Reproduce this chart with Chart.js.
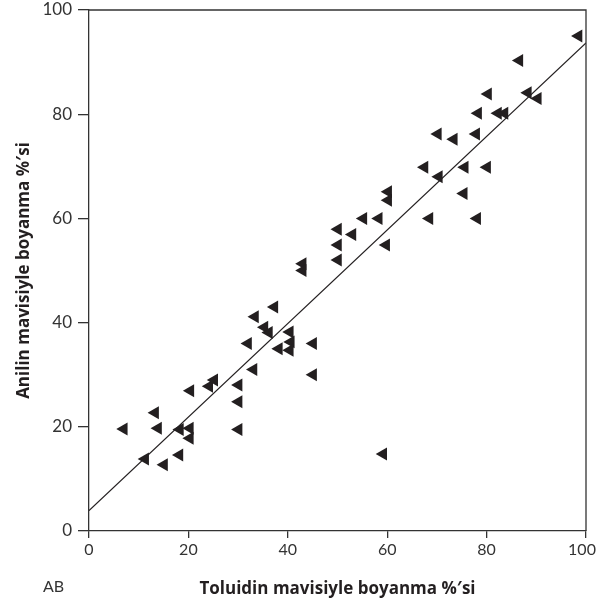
<!DOCTYPE html>
<html>
<head>
<meta charset="utf-8">
<script src="https://cdn.jsdelivr.net/npm/chart.js@4/dist/chart.umd.min.js"></script>
<style>
  body { margin: 0; background: #fff; }
  #wrap { width: 598px; height: 606px; position: relative; }
</style>
</head>
<body>
<div id="wrap"><canvas id="chartBoyanma"></canvas></div>
<script>
// Toluidin mavisi (x) vs Anilin mavisi (y), % staining
const toluidin = [7, 11.3, 13.3, 13.9, 15.1, 18.3, 18.2, 20.3, 20.3, 20.4, 24.2, 25.2, 30.1, 30.1, 30.1,
    32, 33.1, 33.4, 35.3, 36.2, 37.3, 38.2, 40.4, 40.6, 40.4, 45.1, 45.1, 43, 43, 50.1,
    50.1, 50.1, 53, 55.2, 58.3, 60.2, 60.2, 59.8, 59.2, 67.5, 68.5, 70.2, 70.4, 73.4, 75.6,
    75.4, 77.9, 78.3, 78.1, 80.3, 80.1, 82.3, 83.6, 86.6, 88.3, 90.3, 98.5];
const anilin = [19.6, 13.8, 22.7, 19.7, 12.7, 19.5, 14.6, 19.7, 17.8, 26.9, 27.8, 29, 28, 24.8, 19.5,
    36, 31, 41.1, 39.1, 38.1, 43, 35, 38.2, 36.3, 34.7, 36, 30, 51.3, 50, 57.9,
    54.9, 52, 56.9, 60, 60, 65.1, 63.5, 54.9, 14.8, 69.8, 60, 76.2, 68, 75.2, 69.8,
    64.8, 76.2, 80.2, 60, 83.9, 69.8, 80.2, 80.2, 90.3, 84.1, 83, 95];
// regression line end points
const fitX = [0, 100];
const fitY = [3.9, 93.7];
const axisTicks = [0, 20, 40, 60, 80, 100];

const ink = '#231f20';
const axisColor = '#333';

let points = [];
for (let i = 0; i < toluidin.length; i++) {
    points.push({ x: toluidin[i], y: anilin[i] });
}
let fitLine = fitX.map((x, i) => ({ x: x, y: fitY[i] }));

const frameAndLabel = {
    id: 'frameAndLabel',
    afterDatasetsDraw(chart) {
        const { ctx, chartArea } = chart;
        ctx.save();
        ctx.strokeStyle = axisColor;
        ctx.lineWidth = 1.3;
        ctx.beginPath();
        ctx.moveTo(chartArea.left, chartArea.top);
        ctx.lineTo(chartArea.right, chartArea.top);
        ctx.lineTo(chartArea.right, chartArea.bottom);
        ctx.stroke();
        ctx.fillStyle = axisColor;
        ctx.font = '16px Lato';
        ctx.textBaseline = 'middle';
        ctx.fillText('AB', 43, 587);
        ctx.restore();
    }
};

const titleFont = { family: 'Open Sans', size: 17, weight: 'bold' };

new Chart(document.getElementById('chartBoyanma'), {
    type: 'scatter',
    data: {
        datasets: [{
            data: points,
            pointStyle: 'triangle',
            rotation: -90,
            pointRadius: 7.5,
            pointHoverRadius: 7.5,
            backgroundColor: ink,
            borderColor: ink,
            borderWidth: 0,
        }, {
            type: 'line',
            data: fitLine,
            borderColor: ink,
            borderWidth: 1.2,
            pointRadius: 0,
            fill: false,
        }],
    },
    plugins: [frameAndLabel],
    options: {
        responsive: true,
        maintainAspectRatio: false,
        animation: false,
        layout: { padding: { top: 10, right: 12, left: 0, bottom: 0 } },
        plugins: {
            legend: { display: false },
            tooltip: { enabled: false },
        },
        scales: {
            x: {
                type: 'linear',
                min: 0,
                max: 100,
                afterBuildTicks: (scale) => { scale.ticks = axisTicks.map(v => ({ value: v })); },
                afterFit: (scale) => {
                    scale.height = 75;
                    scale.paddingRight = 0;
                    scale.paddingLeft = 0;
                },
                ticks: {
                    font: { family: 'Lato', size: 16 },
                    color: axisColor,
                    padding: 2,
                    // keep the last label inside the canvas
                    callback: (v) => v === 100 ? '100\u2002' : String(v),
                },
                grid: { drawOnChartArea: false, tickLength: 7, color: axisColor, lineWidth: 1.3 },
                border: { color: axisColor, width: 1.3 },
                title: {
                    display: true,
                    text: 'Toluidin mavisiyle boyanma %\u2032si',
                    font: titleFont,
                    color: ink,
                    padding: { top: 8, bottom: 7 },
                },
            },
            y: {
                type: 'linear',
                min: 0,
                max: 100,
                afterBuildTicks: (scale) => { scale.ticks = axisTicks.map(v => ({ value: v })); },
                afterFit: (scale) => {
                    scale.width = 89;
                    scale.paddingTop = 0;
                    scale.paddingBottom = 0;
                },
                ticks: { font: { family: 'Lato', size: 17 }, color: axisColor, padding: 6 },
                grid: { drawOnChartArea: false, tickLength: 11, color: axisColor, lineWidth: 1.3 },
                border: { color: axisColor, width: 1.3 },
                title: {
                    display: true,
                    text: 'Anilin mavisiyle boyanma %\u2032si',
                    font: titleFont,
                    color: ink,
                    padding: { top: 14, bottom: 0 },
                },
            },
        },
    },
});
</script>
</body>
</html>
